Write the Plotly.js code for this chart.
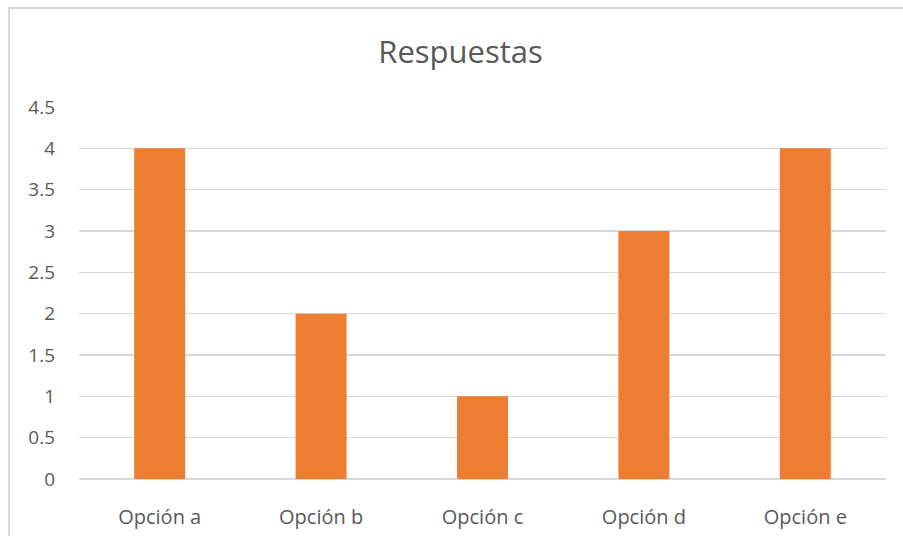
<!DOCTYPE html>
<html><head><meta charset="utf-8">
<script src="https://cdn.plot.ly/plotly-3.0.1.min.js"></script>
<style>
html,body{margin:0;padding:0;background:#fff;overflow:hidden;}
#frame{position:absolute;left:8px;top:7px;width:1000px;height:700px;border:2px solid #d9d9d9;box-sizing:border-box;}
#chart{position:absolute;left:0;top:0;width:903px;height:536px;}
</style></head>
<body>
<div id="frame"></div>
<div id="chart"></div>
<script>
const categories = ["Opción a","Opción b","Opción c","Opción d","Opción e"];
const values = [4, 2, 1, 3, 4];
const yTicks = [0,0.5,1,1.5,2,2.5,3,3.5,4,4.5];
const yTickLabels = ["0","0.5","1","1.5","2","2.5","3","3.5","4","4.5"];

const font = "Open Sans, Liberation Sans, sans-serif";
Plotly.newPlot("chart", [{
  type: "bar",
  x: categories,
  y: values,
  marker: {color: "#ED7D31"},
  hoverinfo: "x+y"
}], {
  width: 903, height: 536,
  margin: {l: 79, r: 17, t: 107, b: 57},
  paper_bgcolor: "rgba(0,0,0,0)",
  plot_bgcolor: "rgba(0,0,0,0)",
  bargap: 0.684,
  title: {text: "Respuestas", x: 0.51, xanchor: "center", y: 0.902, yanchor: "middle",
          font: {family: font, size: 31, color: "#595959"}},
  xaxis: {showgrid: false, zeroline: false, showline: false, ticks: "",
          ticklabelstandoff: 24,
          tickfont: {family: font, size: 20, color: "#595959"}},
  yaxis: {range: [0, 4.5], tickvals: yTicks, ticktext: yTickLabels,
          showgrid: true, gridcolor: "#d9d9d9", gridwidth: 1.5,
          zeroline: true, zerolinecolor: "#d9d9d9", zerolinewidth: 1.5,
          showline: false, ticks: "", ticklabelstandoff: 23,
          tickfont: {family: font, size: 19, color: "#595959"}},
  showlegend: false
}, {displayModeBar: false, staticPlot: true});
</script>
</body></html>
